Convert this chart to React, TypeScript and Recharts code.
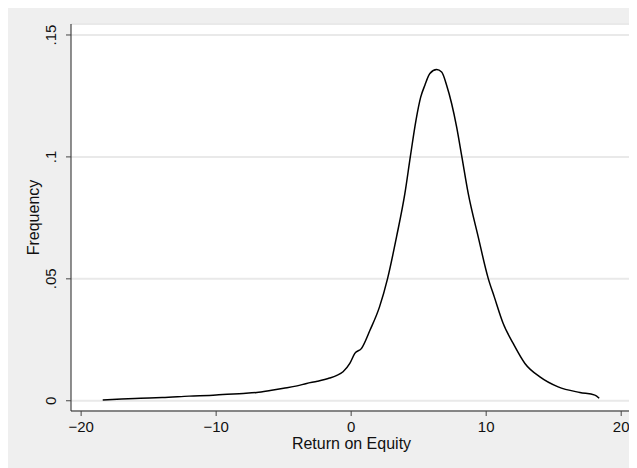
import { CartesianGrid, Label, Line, LineChart, XAxis, YAxis } from "recharts";

// Kernel density of return on equity
const roe: number[] = [
  -18.4, -17, -15.6, -14, -12, -10, -9.5, -8, -7, -6, -5, -4, -3.3, -2.5, -1.6,
  -1.1, -0.6, -0.1, 0.27, 0.77, 1.4, 2.1, 2.7, 3.36, 3.98, 4.38, 4.8, 5.15,
  5.46, 5.83, 6.33, 6.7, 7.07, 7.44, 7.81, 8.2, 8.67, 9.41, 10.15, 10.6,
  11.26, 12.0, 12.87, 13.98, 15.33, 16.94, 18.05, 18.37,
];
const frequency: number[] = [
  0.0003, 0.0007, 0.001, 0.0013, 0.0019, 0.0024, 0.0026, 0.003, 0.0034, 0.0042,
  0.0051, 0.0061, 0.0071, 0.008, 0.0093, 0.0103, 0.0119, 0.0153, 0.0194, 0.0215,
  0.029, 0.0385, 0.0502, 0.0672, 0.085, 0.1, 0.115, 0.1245, 0.1294, 0.1342,
  0.1358, 0.1348, 0.1294, 0.1219, 0.1123, 0.1, 0.085, 0.0672, 0.0502, 0.0426,
  0.0317, 0.0235, 0.0153, 0.0098, 0.0057, 0.0034, 0.0023, 0.001,
];
const xTicks = [-20, -10, 0, 10, 20];
const yTicks = [0, 0.05, 0.1, 0.15];

const data = roe.map((x, i) => ({ x, y: frequency[i] }));

const FONT = "Arial, 'Liberation Sans', Helvetica, sans-serif";

const fmtX = (v: number) => (v < 0 ? "\u2212" + Math.abs(v) : String(v));
const fmtY = (v: number) => (v === 0 ? "0" : String(v).replace(/^0/, ""));

const XTick = (props: any) => {
  const { x, y, payload } = props;
  return (
    <text x={x} y={y + 16} textAnchor="middle" fontSize={15} fontFamily={FONT} fill="#111">
      {fmtX(payload.value)}
    </text>
  );
};

const YTick = (props: any) => {
  const { x, y, payload } = props;
  return (
    <text
      x={x}
      y={y}
      transform={`rotate(-90, ${x}, ${y})`}
      textAnchor="middle"
      fontSize={15}
      fontFamily={FONT}
      fill="#111"
    >
      {fmtY(payload.value)}
    </text>
  );
};

const YTitle = (props: any) => {
  const vb = props.viewBox;
  const x = vb.x + vb.width - 32.5;
  const y = vb.y + vb.height / 2;
  return (
    <text
      x={x}
      y={y}
      transform={`rotate(-90, ${x}, ${y})`}
      textAnchor="middle"
      fontSize={16}
      fontFamily={FONT}
      fill="#111"
    >
      Frequency
    </text>
  );
};

export default function App() {
  return (
    <div style={{ width: 629, height: 460, background: "#efefef" }}>
      <LineChart width={629} height={460} data={data} margin={{ top: 16, right: 5, bottom: 0, left: 0 }}>
        <CartesianGrid vertical={false} fill="#ffffff" stroke="#e9e9e9" strokeWidth={2} />
        <XAxis
          dataKey="x"
          type="number"
          domain={[-20.75, 20.8]}
          allowDataOverflow
          ticks={xTicks}
          height={57}
          tickSize={5}
          tickMargin={0}
          tick={<XTick />}
          axisLine={{ stroke: "#222" }}
          tickLine={{ stroke: "#444" }}
          label={{ value: "Return on Equity", position: "insideTop", offset: 27, fontSize: 16, fontFamily: FONT, fill: "#111" }}
        />
        <YAxis
          type="number"
          domain={[-0.0042, 0.1545]}
          allowDataOverflow
          ticks={yTicks}
          width={63}
          tickSize={5}
          tickMargin={9.5}
          tick={<YTick />}
          axisLine={{ stroke: "#222" }}
          tickLine={{ stroke: "#444" }}
        >
          <Label content={<YTitle />} />
        </YAxis>
        <Line
          type="monotone"
          dataKey="y"
          stroke="#000"
          strokeWidth={1.5}
          dot={false}
          isAnimationActive={false}
        />
      </LineChart>
    </div>
  );
}
